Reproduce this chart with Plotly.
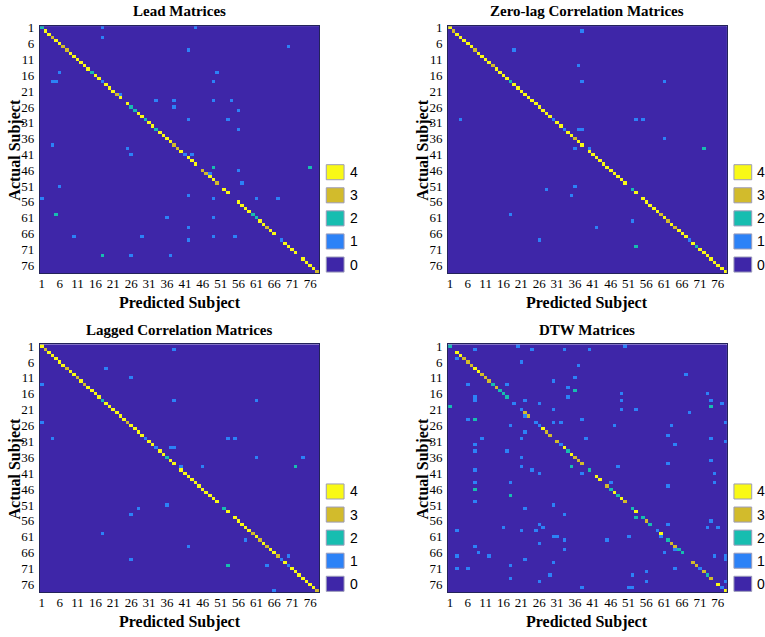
import plotly.graph_objects as go

N = 78
tick_vals = list(range(1, 77, 5))
tick_text = [str(v) for v in tick_vals]
legend_levels = [4, 3, 2, 1, 0]
level_colors = ["#3E26A8", "#2C82F7", "#17BDB0", "#D2BB2C", "#F9F916"]
titles = ["Lead Matrices", "Zero-lag Correlation Matrices",
          "Lagged Correlation Matrices", "DTW Matrices"]
x_title = "Predicted Subject"
y_title = "Actual Subject"

# ---- Lead Matrices ----
lead_diag = [2, 4, 4, 3, 4, 4, 3, 3, 4, 4,
             4, 4, 4, 4, 2, 4, 4, 1, 4, 4,
             4, 3, 4, 0, 4, 2, 2, 4, 4, 2,
             4, 4, 2, 4, 4, 4, 4, 3, 3, 4,
             1, 4, 4, 4, 0, 3, 3, 4, 4, 3,
             0, 4, 4, 0, 0, 4, 4, 4, 4, 2,
             2, 4, 4, 3, 4, 4, 0, 1, 4, 4,
             4, 4, 0, 4, 4, 4, 4, 3]
lead_rows = [1, 1, 4, 7, 8, 15, 15, 18, 18, 18, 22, 24, 24, 24, 24, 26, 27, 30, 30, 33,
             38, 39, 41, 41, 45, 45, 46, 47, 50, 51, 54, 55, 55, 55, 55, 60, 61, 61, 64, 67,
             67, 67, 67, 68, 73, 73, 73]
lead_cols = [18, 44, 18, 70, 42, 6, 50, 4, 5, 49, 23, 33, 38, 49, 54, 38, 56, 42, 53, 56,
             4, 25, 26, 43, 49, 76, 56, 48, 57, 6, 42, 1, 49, 61, 67, 5, 36, 49, 42, 10,
             29, 49, 55, 42, 18, 26, 37]
lead_vals = [1, 1, 1, 1, 1, 1, 1, 1, 1, 1, 1, 1, 1, 1, 1, 1, 1, 1, 1, 1,
             1, 1, 1, 1, 2, 2, 1, 1, 1, 1, 1, 1, 1, 1, 1, 2, 1, 1, 1, 1,
             1, 1, 1, 1, 2, 1, 1]

# ---- Zero-lag Correlation Matrices ----
zero_diag = [4, 3, 4, 4, 4, 4, 4, 3, 4, 4,
             4, 4, 3, 4, 4, 4, 4, 2, 4, 4,
             4, 4, 4, 4, 4, 4, 4, 4, 4, 1,
             4, 4, 1, 4, 4, 3, 4, 4, 0, 4,
             4, 4, 4, 4, 4, 4, 4, 4, 4, 4,
             0, 2, 4, 0, 4, 4, 4, 4, 4, 3,
             4, 3, 4, 3, 4, 4, 4, 1, 4, 2,
             4, 4, 4, 4, 4, 4, 4, 4]
zero_rows = [2, 8, 13, 18, 18, 30, 30, 30, 33, 33, 36, 39, 39, 39, 51, 52, 54, 60, 62, 64,
             68, 70]
zero_cols = [38, 19, 37, 38, 61, 4, 53, 55, 37, 38, 61, 36, 40, 72, 36, 28, 35, 18, 52, 42,
             26, 53]
zero_vals = [1, 1, 1, 1, 1, 1, 1, 1, 1, 1, 1, 1, 1, 2, 1, 1, 1, 1, 1, 1,
             1, 2]

# ---- Lagged Correlation Matrices ----
lag_diag = [4, 3, 4, 4, 4, 4, 4, 3, 4, 4,
            3, 4, 3, 4, 4, 4, 4, 2, 4, 4,
            4, 4, 4, 4, 3, 4, 4, 4, 4, 1,
            4, 4, 1, 4, 4, 2, 4, 4, 0, 4,
            4, 4, 4, 4, 4, 4, 4, 4, 4, 4,
            0, 2, 4, 0, 4, 4, 4, 4, 4, 3,
            4, 3, 4, 3, 4, 4, 3, 1, 4, 1,
            4, 4, 4, 4, 4, 4, 4, 3]
lag_rows = [2, 8, 11, 13, 18, 18, 25, 30, 30, 30, 33, 33, 36, 36, 39, 39, 39, 51, 52, 54,
            60, 62, 64, 67, 68, 70, 70, 78]
lag_cols = [38, 19, 26, 1, 38, 61, 1, 4, 53, 55, 37, 38, 61, 74, 40, 46, 72, 36, 28, 26,
            18, 58, 42, 70, 26, 53, 64, 66]
lag_vals = [1, 1, 1, 1, 1, 1, 1, 1, 1, 1, 1, 1, 1, 1, 1, 1, 2, 1, 1, 1,
            1, 1, 1, 1, 1, 2, 1, 1]

# ---- DTW Matrices ----
dtw_diag = [2, 0, 4, 4, 3, 3, 3, 4, 4, 3,
            3, 3, 2, 3, 2, 2, 2, 0, 1, 0,
            1, 3, 3, 0, 1, 1, 4, 3, 3, 0,
            3, 1, 4, 2, 4, 3, 3, 3, 0, 2,
            0, 4, 4, 0, 3, 2, 4, 2, 4, 3,
            0, 2, 4, 0, 2, 3, 2, 0, 1, 4,
            0, 2, 3, 3, 2, 2, 0, 0, 3, 3,
            1, 3, 2, 3, 0, 4, 1, 4]
dtw_rows = [1, 1, 2, 2, 2, 2, 5, 6, 7, 10, 11, 12, 13, 13, 14, 15, 16, 16, 17, 17,
            18, 18, 18, 18, 19, 19, 20, 20, 21, 21, 21, 22, 23, 24, 24, 24, 25, 25, 25, 26,
            26, 26, 28, 29, 30, 30, 30, 30, 31, 32, 32, 34, 34, 36, 37, 38, 39, 39, 39, 40,
            40, 41, 41, 41, 44, 44, 44, 44, 45, 46, 48, 50, 51, 52, 54, 55, 56, 57, 57, 58,
            58, 58, 58, 59, 59, 59, 61, 61, 61, 61, 62, 62, 63, 64, 65, 65, 66, 66, 67, 67,
            67, 67, 68, 68, 69, 70, 71, 71, 71, 72, 73, 73, 74, 75, 75, 75, 77, 77, 77]
dtw_cols = [20, 50, 8, 24, 33, 40, 3, 21, 37, 67, 36, 30, 6, 17, 34, 36, 49, 73, 8, 34,
            8, 22, 49, 74, 26, 77, 1, 74, 30, 49, 53, 68, 22, 6, 8, 38, 30, 32, 78, 18,
            47, 63, 22, 62, 10, 21, 39, 74, 78, 8, 64, 8, 17, 21, 74, 62, 21, 35, 48, 8,
            24, 26, 38, 75, 8, 18, 46, 75, 62, 8, 18, 8, 30, 22, 33, 53, 74, 26, 62, 16,
            27, 73, 76, 3, 21, 25, 30, 31, 51, 60, 33, 45, 26, 8, 33, 64, 9, 61, 3, 12,
            75, 78, 22, 78, 30, 18, 3, 6, 64, 56, 29, 52, 18, 26, 56, 78, 38, 51, 52]
dtw_vals = [1, 1, 1, 1, 1, 1, 1, 1, 1, 1, 1, 1, 1, 1, 1, 2, 1, 1, 1, 1,
            1, 1, 1, 1, 1, 1, 2, 2, 1, 1, 1, 1, 1, 1, 2, 1, 1, 1, 1, 1,
            1, 1, 1, 1, 1, 1, 1, 1, 1, 1, 1, 1, 1, 1, 1, 1, 1, 2, 1, 1,
            1, 1, 1, 1, 1, 1, 1, 1, 1, 2, 2, 1, 1, 1, 1, 2, 1, 1, 1, 1,
            1, 1, 1, 1, 1, 1, 1, 1, 1, 1, 1, 1, 1, 1, 1, 1, 1, 1, 1, 1,
            1, 1, 1, 1, 1, 1, 1, 1, 1, 1, 1, 1, 1, 1, 1, 1, 1, 1, 1]

datasets = [(lead_diag, lead_rows, lead_cols, lead_vals),
            (zero_diag, zero_rows, zero_cols, zero_vals),
            (lag_diag, lag_rows, lag_cols, lag_vals),
            (dtw_diag, dtw_rows, dtw_cols, dtw_vals)]


def build_matrix(diag, rows, cols, vals):
    z = [[0] * N for _ in range(N)]
    for i, d in enumerate(diag):
        z[i][i] = d
    for r, c, v in zip(rows, cols, vals):
        z[r - 1][c - 1] = v
    return z


colorscale = []
for k, col in enumerate(level_colors):
    colorscale.append([k / 5, col])
    colorscale.append([(k + 1) / 5, col])

W, H = 765, 637
# panel boxes in pixels: x0, x1, y0 (top), y1 (bottom)
boxes = [(39.0, 318.5, 20.4, 269.7),
         (447.7, 726.7, 20.4, 269.7),
         (39.0, 318.5, 341.7, 592.0),
         (447.7, 726.7, 341.7, 592.0)]

serif = "Liberation Serif"
sans = "Liberation Sans"

fig = go.Figure()
shapes = []
annotations = []
axis_coords = list(range(1, N + 1))

for i, ((x0, x1, y0, y1), data) in enumerate(zip(boxes, datasets)):
    n = i + 1
    xa = "x" if n == 1 else f"x{n}"
    ya = "y" if n == 1 else f"y{n}"
    fig.add_trace(go.Heatmap(
        z=build_matrix(*data), x=axis_coords, y=axis_coords,
        colorscale=colorscale, zmin=-0.5, zmax=4.5, showscale=False,
        hoverinfo="skip", xaxis=xa, yaxis=ya))
    axis_common = dict(showgrid=False, zeroline=False, showline=True, mirror=True,
                       linecolor="#23235a", linewidth=1, ticks="",
                       tickvals=tick_vals, ticktext=tick_text,
                       tickfont=dict(family=serif, size=13, color="black"))
    fig.layout[f"xaxis{'' if n == 1 else n}"] = dict(
        domain=[x0 / W, x1 / W], range=[0.5, N + 0.5], anchor=ya,
        ticklabelstandoff=-2, **axis_common)
    fig.layout[f"yaxis{'' if n == 1 else n}"] = dict(
        domain=[1 - y1 / H, 1 - y0 / H], range=[N + 0.5, 0.5], anchor=xa,
        ticklabelstandoff=2, **axis_common)

    cx = (x0 + x1) / 2
    annotations.append(dict(text=f"<b>{titles[i]}</b>", x=cx / W, y=1 - (y0 - 15) / H,
                            xref="paper", yref="paper", showarrow=False,
                            xanchor="center", yanchor="middle",
                            font=dict(family=serif, size=15, color="black")))
    annotations.append(dict(text=f"<b>{x_title}</b>", x=cx / W, y=1 - (y1 + 30) / H,
                            xref="paper", yref="paper", showarrow=False,
                            xanchor="center", yanchor="middle",
                            font=dict(family=serif, size=16, color="black")))
    annotations.append(dict(text=f"<b>{y_title}</b>", x=(x0 - 25) / W,
                            y=1 - ((y0 + y1) / 2) / H,
                            xref="paper", yref="paper", showarrow=False, textangle=-90,
                            xanchor="center", yanchor="middle",
                            font=dict(family=serif, size=16, color="black")))
    # discrete colour key
    for lev in legend_levels:
        cy = y1 - 8.7 - lev * 23.3
        shapes.append(dict(type="rect", xref="paper", yref="paper",
                           x0=(x1 + 7.2) / W, x1=(x1 + 25) / W,
                           y0=1 - (cy + 7.6) / H, y1=1 - (cy - 7.6) / H,
                           fillcolor=level_colors[lev],
                           line=dict(color="#9c9cba", width=1)))
        annotations.append(dict(text=str(lev), x=(x1 + 28.5) / W, y=1 - cy / H,
                                xref="paper", yref="paper", showarrow=False,
                                xanchor="left", yanchor="middle",
                                font=dict(family=sans, size=14, color="black")))

fig.update_layout(width=W, height=H, margin=dict(l=0, r=0, t=0, b=0),
                  paper_bgcolor="white", plot_bgcolor=level_colors[0],
                  shapes=shapes, annotations=annotations, showlegend=False)

fig.write_html("out.html", config={"displayModeBar": False},
               post_script="document.body.style.margin='0px';"
                           "document.body.style.overflow='hidden';")
